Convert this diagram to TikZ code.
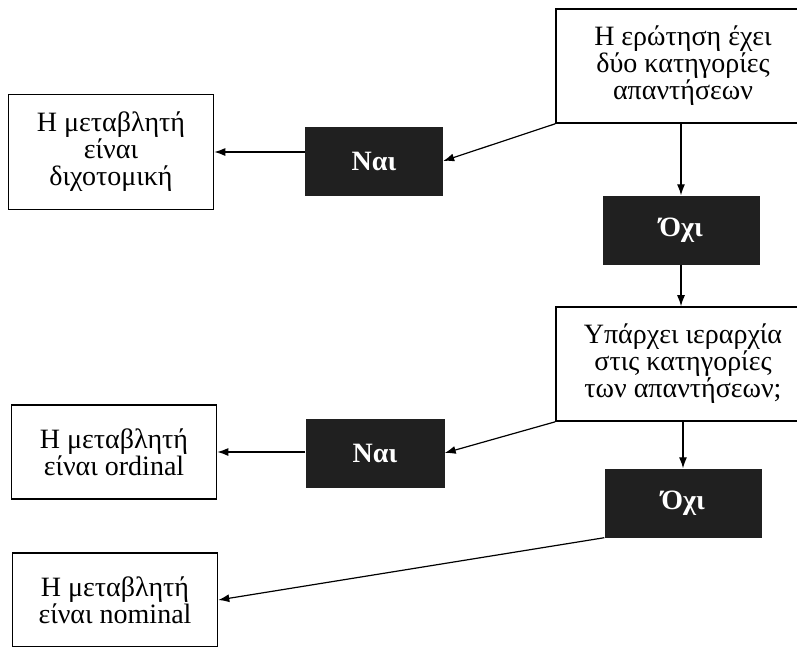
\documentclass[tikz,border=0pt]{standalone}
\usepackage{fontspec}
\setmainfont{Liberation Serif}
\usetikzlibrary{arrows.meta, positioning}
\definecolor{answerfill}{RGB}{32, 32, 32}
\tikzstyle{question} = [rectangle, minimum width=254pt, minimum height=114pt,
                        align=center, draw=black, line width=1.6pt,
                        font=\fontsize{28}{27}\selectfont]
\tikzstyle{result}   = [rectangle, minimum width=205pt, minimum height=94pt,
                        align=center, draw=black, line width=1.6pt,
                        font=\fontsize{28}{27}\selectfont]
\tikzstyle{answer}   = [rectangle, minimum width=139pt, minimum height=69pt,
                        fill=answerfill, text=white,
                        font=\fontsize{28}{27}\selectfont\bfseries]
\tikzstyle{arrow}    = [-{Latex[length=11pt, width=8pt]}, line width=1.2pt]

\begin{document}
\begin{tikzpicture}[x=1pt, y=-1pt]
  \useasboundingbox (0,0) rectangle (797,646);

  % Questions
  \node (q1)   [question] at (683,66)  {Η ερώτηση έχει\\δύο κατηγορίες\\απαντήσεων};
  \node (q2)   [question] at (683,364) {Υπάρχει ιεραρχία\\στις κατηγορίες\\των απαντήσεων;};

  % Answers
  \node (nai1) [answer, minimum width=138pt] at (374,161)   {Ναι};
  \node (oxi1) [answer, minimum width=157pt] at (681,230)   {Όχι};
  \node (nai2) [answer] at (375,453)                        {Ναι};
  \node (oxi2) [answer, minimum width=157pt] at (683,503)   {Όχι};

  % Results
  \node (var1) [result, minimum height=115pt] at (111,152) {Η μεταβλητή\\είναι\\διχοτομική};
  \node (var2) [result] at (114,452) {Η μεταβλητή\\είναι ordinal};
  \node (var3) [result] at (115,600) {Η μεταβλητή\\είναι nominal};

  \draw [arrow] (q1.south west) -- (nai1.east);
  \draw [arrow] (var1.east -| nai1.west) -- (var1.east);
  \draw [arrow] (oxi1.north |- q1.south) -- (oxi1.north);
  \draw [arrow] (oxi1.south) -- (oxi1.south |- q2.north);
  \draw [arrow] (q2.south west) -- (nai2.east);
  \draw [arrow] (var2.east -| nai2.west) -- (var2.east);
  \draw [arrow] (oxi2.north |- q2.south) -- (oxi2.north);
  \draw [arrow] (oxi2.south west) -- (var3.east);
\end{tikzpicture}
\end{document}
